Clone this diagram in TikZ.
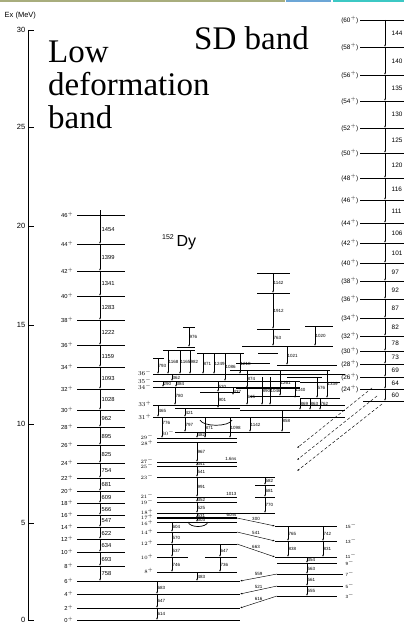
\documentclass[tikz,border=0pt]{standalone}
\usepackage{fontspec}
\setmainfont{Liberation Serif}
\setsansfont{Liberation Sans}
\usetikzlibrary{arrows.meta}
\tikzset{
  lvl/.style={line width=0.7pt},
  gam/.style={-{Latex[length=2.2pt,width=1.7pt]},line width=0.45pt},
  elab/.style={font=\sffamily\fontsize{4.5}{5}\selectfont,inner sep=0.5pt},
  yrlab/.style={font=\sffamily\fontsize{5.8}{6}\selectfont,inner sep=0.5pt},
  spinlab/.style={font=\sffamily\fontsize{5.8}{6}\selectfont,inner sep=0.5pt},
  sdlab/.style={font=\sffamily\fontsize{6.4}{7}\selectfont,inner sep=0.5pt},
  axlab/.style={font=\sffamily\fontsize{7.5}{8}\selectfont,inner sep=0.5pt},
  bigtext/.style={font=\fontsize{33}{33}\selectfont,inner sep=0pt,align=left}
}
\begin{document}
\begin{tikzpicture}[x=1pt,y=-1pt]
  \useasboundingbox (0,0) rectangle (404,626);
  \clip (0,0) rectangle (404,626);
  % colour strip at the top
  \fill[fill={rgb,255:red,168;green,173;blue,125}] (0,0) rectangle (285,2);
  \fill[fill={rgb,255:red,108;green,166;blue,214}] (286,0) rectangle (331,2);
  \fill[fill={rgb,255:red,60;green,200;blue,196}] (333,0) rectangle (404,2);
  % energy axis
  \node[axlab,anchor=west] (axtitle) at (4,16) {Ex (MeV)};
  \draw[line width=0.8pt] (28,30) -- (28,620);
  \foreach \e/\y in {30/30,25/127,20/226,15/325,10/424,5/523,0/620}{
    \draw[line width=0.8pt] (28,\y) -- (34,\y);
    \node[axlab,anchor=east] (tick\e) at (26,\y) {\e};
  }
  \node[bigtext,anchor=base west] (lowtxt) at (48,128) {Low\\deformation\\band};
  \node[bigtext,anchor=base west] (sdtxt) at (194,50) {SD band};
  \node[font=\sffamily\fontsize{16}{16}\selectfont,inner sep=0pt,anchor=base west] (nucl) at (162,246) {\raisebox{7pt}{\fontsize{7}{7}\selectfont 152}\,Dy};
  % low deformation (yrast) band
  \foreach \s/\y in {46/215,44/244,42/271,40/296,38/320,36/345,34/367,32/389,30/410,28/427,26/445,24/463,22/478,20/491,18/503,16/515,14/527,12/539,10/552,8/566}{
    \draw[lvl] (77,\y) -- (125,\y);
    \node[spinlab,anchor=east] (gs\s) at (74,\y) {\s$^+$};
  }
  \foreach \s/\y in {6/581,4/594,2/608,0/620}{
    \draw[lvl] (77,\y) -- (240,\y);
    \node[spinlab,anchor=east] (gs\s) at (74,\y) {\s$^+$};
  }
  \draw[line width=0.5pt] (100,210) -- (100,215);
  \foreach \ya/\yb/\g in {215/244/1454,244/271/1399,271/296/1341,296/320/1283,320/345/1222,345/367/1159,367/389/1093,389/410/1028,410/427/962,427/445/895,445/463/825,463/478/754,478/491/681,491/503/609,503/515/566,515/527/547,527/539/622,539/552/634,552/566/693,566/581/758}{
    \draw[gam] (100,\ya) -- (100,\yb) node[yrlab,midway,right,xshift=1pt] (yr\g) {\g};
  }
  % superdeformed band
  \foreach \s/\y in {60/20,58/47,56/75,54/101,52/128,50/153,48/178,46/200,44/223,42/243,40/263,38/281,36/299,34/318,32/336,30/351,28/364,26/377,24/389}{
    \draw[lvl] (360,\y) -- (404,\y);
    \node[sdlab,anchor=east] (sd\s) at (359,\y) {(\s$^+$)};
  }
  \draw[lvl] (363,401) -- (404,401);
  \foreach \ya/\yb/\g in {20/47/144,47/75/140,75/101/135,101/128/130,128/153/125,153/178/120,178/200/116,200/223/111,223/243/106,243/263/101,263/281/97,281/299/92,299/318/87,318/336/82,336/351/78,351/364/73,364/377/69,377/389/64,389/401/60}{
    \draw[gam] (385,\ya) -- (385,\yb) node[sdlab,midway,right,xshift=6pt] (sg\ya) {\g};
  }
  % decay out of the SD band
  \foreach \xa/\ya/\xb/\yb in {372/388/297/448,377/396/297/460,382/404/297/471}{
    \draw[gam,dashed,dash pattern=on 3pt off 2pt] (\xa,\ya) -- (\xb,\yb);
  }
  % upper part of the level scheme
  \foreach \xa/\xb/\y in {257/290/273,257/290/293,257/290/329,305/333/326,242/333/346,183/195/327,177/195/347,163/195/350,153/164/358,197/240/353,258/278/353,228/244/353,236/270/363,277/337/365,230/330/370,153/345/374,153/300/381,153/300/387,287/322/377,300/340/382,200/240/392,236/300/388,250/300/396,300/340/398,153/345/405,175/240/408,240/345/410,153/345/417,175/290/432,157/237/438,157/237/442}{
    \draw[lvl] (\xa,\y) -- (\xb,\y);
  }
  \foreach \x/\ya/\yb/\g in {273/273/293/1142,273/293/329/1912,273/329/346/763,315/326/346/1020,189/327/347/976,287/346/365/1021,158/358/374/793,168/350/374/1168,180/350/374/1165,190/350/374/982,203/353/374/871,214/353/374/1249,225/353/381/1086,240/353/374/1218,172/374/381/362,163/381/387/290,176/381/387/384,175/387/405/780,218/381/392/520,218/392/408/901,233/388/395/437,247/370/388/874,247/388/405/615,262/377/405/890,270/377/405/1046,280/370/396/1261,295/382/398/1140,317/377/398/576,300/398/410/869,310/398/410/863,320/398/410/762,327/370/398/1339,158/405/417/465,185/408/417/421,185/417/432/797,205/417/438/871,230/417/438/1098,250/417/432/1142,282/410/432/858,197/432/438/482}{
    \draw[gam] (\x,\ya) -- (\x,\yb) node[elab,midway,right] (up\x-\ya) {\g};
  }
  \draw[gam] (162,417) -- (162,438) node[elab,pos=0.3,right] (up776) {776};
  \draw[lvl] (200,420) .. controls (203,427) and (229,427) .. (232,420);
  \foreach \s/\y in {36^-/373,35^-/381,34^-/387,33^+/404,31^+/417}{
    \node[spinlab,anchor=east] (us\y) at (152,\y) {$\s$};
  }
  \node[elab,anchor=east] (us432) at (175,433) {$30^-$};
  % lower part of the level scheme
  \foreach \xa/\xb/\y in {157/237/462,157/237/466,157/275/477,255/275/485,255/275/497,157/237/497,157/237/502,157/275/513,157/237/522,157/237/532,157/237/544,157/188/557,205/237/557,157/237/572,275/337/526,275/337/541,275/337/557,277/337/563,277/343/574,277/343/586,277/337/596}{
    \draw[lvl] (\xa,\y) -- (\xb,\y);
  }
  \draw[line width=1.5pt] (157,518) -- (237,518);
  \draw[lvl] (188,522) .. controls (190,528) and (206,528) .. (208,522);
  \foreach \x/\ya/\yb/\g in {197/442/462/967,197/462/466/341,197/466/477/541,197/477/497/991,197/497/502/352,197/502/513/525,197/513/518/531,197/518/522/303,265/477/485/582,265/485/497/681,265/497/513/770,172/522/532/604,172/532/544/570,172/544/557/537,172/557/572/746,220/544/557/647,220/557/572/736,197/572/581/483,157/581/594/683,157/594/608/647,157/608/620/614,288/526/541/765,288/541/557/838,323/526/541/742,323/541/557/831,307/557/563/354,307/563/574/563,307/574/586/561,307/586/596/555}{
    \draw[gam] (\x,\ya) -- (\x,\yb) node[elab,midway,right] (lo\x-\ya) {\g};
  }
  \foreach \xa/\ya/\xb/\yb/\g in {237/518/275/526/300,237/532/275/541/541,237/544/275/557/663,277/574/240/581/559,277/586/240/594/521,277/596/240/608/616}{
    \draw[gam] (\xa,\ya) -- (\xb,\yb) node[elab,midway,above,yshift=1pt] (sl\g) {\g};
  }
  \node[elab,anchor=south east] (tau1) at (237,461) {1.6ns};
  \node[elab,anchor=south east] (tau2) at (237,496) {1013};
  \node[elab,anchor=south east] (tau3) at (237,517) {60ns};
  \foreach \s/\y in {29^-/437,28^+/443,27^-/461,25^-/466,23^-/477,21^-/496,19^-/502,18^+/512,17^+/517,16^+/523,14^+/532,12^+/543,10^+/557,8^+/571}{
    \node[elab,anchor=east] (ms\y) at (154,\y) {$\s$};
  }
  \foreach \s/\y in {15/526,13/541,11/556,9/563,7/574,5/586,3/596}{
    \node[elab,anchor=west] (rs\s) at (345,\y) {\s$^-$};
  }
\end{tikzpicture}
\end{document}
